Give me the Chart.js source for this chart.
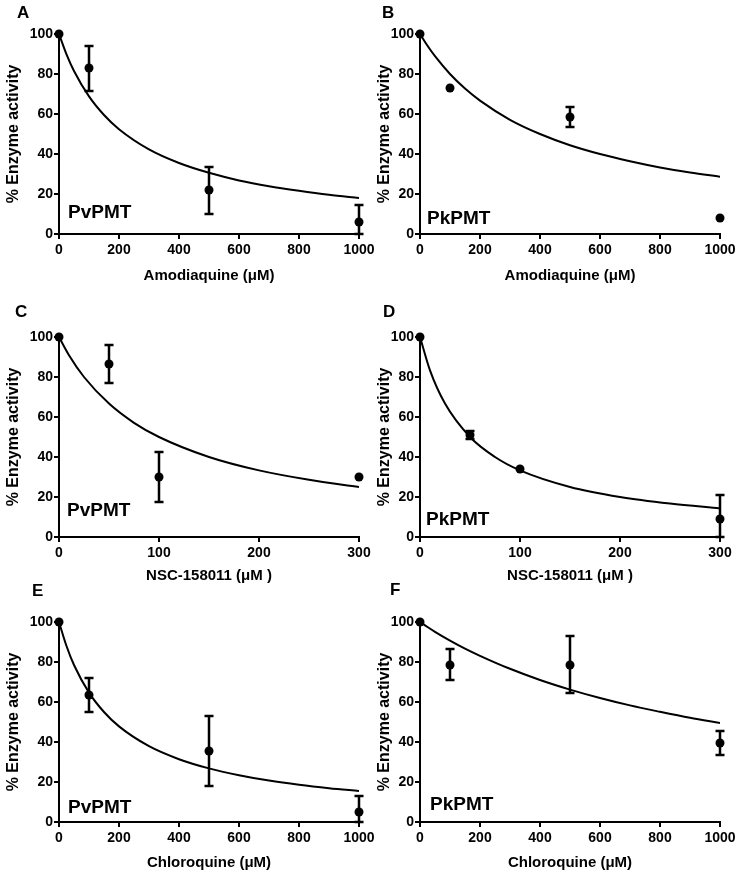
<!DOCTYPE html>
<html>
<head>
<meta charset="utf-8">
<script src="https://cdn.jsdelivr.net/npm/chart.js@4.4.0/dist/chart.umd.min.js"></script>
<style>
	body { margin: 0; background: #fff; }
	#wrap { position: relative; width: 740px; height: 876px; overflow: hidden; }
	#wrap canvas { position: absolute; }
</style>
</head>
<body>
<div id="wrap"></div>
<script>
// measured doses
const amoDose = [0, 100, 500, 1000];
const nscDose = [0, 50, 100, 300];
const chqDose = [0, 100, 500, 1000];

// fitted curve sample doses
const longFitDose = [0, 25, 50, 100, 150, 200, 300, 400, 500, 600, 700, 800, 900, 1000];
const nscFitDose = [0, 10, 25, 50, 75, 100, 150, 200, 250, 300];

// A: PvPMT, amodiaquine
const pvAmoMean = [100, 83, 22, 6];
const pvAmoLo = [100, 71.5, 10, 0];
const pvAmoHi = [100, 94, 33.5, 14.5];
const pvAmoFit = [100, 89.8, 81.5, 68.8, 59.5, 52.4, 42.3, 35.5, 30.6, 26.8, 23.9, 21.6, 19.6, 18];

// B: PkPMT, amodiaquine
const pkAmoMean = [100, 73, 58.5, 8];
const pkAmoLo = [100, 73, 53.5, 8];
const pkAmoHi = [100, 73, 63.5, 8];
const pkAmoFit = [100, 94.1, 88.9, 80, 72.7, 66.7, 57.1, 50, 44.4, 40, 36.4, 33.3, 30.8, 28.6];

// C: PvPMT, NSC-158011
const pvNscMean = [100, 86.5, 30, 30];
const pvNscLo = [100, 77, 17.5, 30];
const pvNscHi = [100, 96, 42.5, 30];
const pvNscFit = [100, 90.9, 80, 66.7, 57.1, 50, 40, 33.3, 28.6, 25];

// D: PkPMT, NSC-158011
const pkNscMean = [100, 51, 34, 9];
const pkNscLo = [100, 49, 34, 0];
const pkNscHi = [100, 53, 34, 21];
const pkNscFit = [100, 83.3, 66.7, 50, 40, 33.3, 25, 20, 16.7, 14.3];

// E: PvPMT, chloroquine
const pvChqMean = [100, 63.5, 35.5, 5];
const pvChqLo = [100, 55, 18, 0];
const pvChqHi = [100, 72, 53, 13];
const pvChqFit = [100, 88, 78.5, 64.7, 55, 47.8, 37.9, 31.4, 26.8, 23.4, 20.7, 18.6, 16.9, 15.5];

// F: PkPMT, chloroquine
const pkChqMean = [100, 78.5, 78.5, 39.5];
const pkChqLo = [100, 71, 64.5, 33.5];
const pkChqHi = [100, 86.5, 93, 45.5];
const pkChqFit = [100, 97.5, 95.1, 90.7, 86.7, 83.1, 76.6, 71, 66.2, 62, 58.3, 55.1, 52.1, 49.5];

const yTicks = [0, 20, 40, 60, 80, 100];

const FONT = "'Liberation Sans', Arial, Helvetica, sans-serif";

// page geometry
const colLeft = [0, 370];
const colWidth = [385, 370];
const yAxisW = [59, 50];
const padRight = [26, 20];
const yTitlePad = [4, 5];
const rowTop = [0, 290, 580];
const padTop = [34, 47, 42];
const xTitlePad = [4, 7, 5];
const PLOT_H = 200;
const X_AXIS_H = 55;

const panels = [
	{ letter: "A", name: "PvPMT", drug: "Amodiaquine (\u03bcM)", dose: amoDose, mean: pvAmoMean, lo: pvAmoLo, hi: pvAmoHi, fitX: longFitDose, fitY: pvAmoFit, xMax: 1000, xStep: 200, col: 0, row: 0, lx: 17, ly: 18, nx: 9, ny: 16 },
	{ letter: "B", name: "PkPMT", drug: "Amodiaquine (\u03bcM)", dose: amoDose, mean: pkAmoMean, lo: pkAmoLo, hi: pkAmoHi, fitX: longFitDose, fitY: pkAmoFit, xMax: 1000, xStep: 200, col: 1, row: 0, lx: 12, ly: 18, nx: 7, ny: 10 },
	{ letter: "C", name: "PvPMT", drug: "NSC-158011 (\u03bcM )", dose: nscDose, mean: pvNscMean, lo: pvNscLo, hi: pvNscHi, fitX: nscFitDose, fitY: pvNscFit, xMax: 300, xStep: 100, col: 0, row: 1, lx: 15, ly: 27, nx: 8, ny: 21 },
	{ letter: "D", name: "PkPMT", drug: "NSC-158011 (\u03bcM )", dose: nscDose, mean: pkNscMean, lo: pkNscLo, hi: pkNscHi, fitX: nscFitDose, fitY: pkNscFit, xMax: 300, xStep: 100, col: 1, row: 1, lx: 13, ly: 27, nx: 6, ny: 12 },
	{ letter: "E", name: "PvPMT", drug: "Chloroquine (\u03bcM)", dose: chqDose, mean: pvChqMean, lo: pvChqLo, hi: pvChqHi, fitX: longFitDose, fitY: pvChqFit, xMax: 1000, xStep: 200, col: 0, row: 2, lx: 32, ly: 16, nx: 9, ny: 9 },
	{ letter: "F", name: "PkPMT", drug: "Chloroquine (\u03bcM)", dose: chqDose, mean: pkChqMean, lo: pkChqLo, hi: pkChqHi, fitX: longFitDose, fitY: pkChqFit, xMax: 1000, xStep: 200, col: 1, row: 2, lx: 20, ly: 15, nx: 10, ny: 12 }
];

// vertical error bars with caps, from errLo/errHi on a dataset
const errorBars = {
	id: "errorBars",
	afterDatasetsDraw(chart) {
		let ctx = chart.ctx;
		let xs = chart.scales.x, ys = chart.scales.y;
		ctx.save();
		ctx.strokeStyle = "#000";
		ctx.lineWidth = 2.5;
		chart.data.datasets.forEach(ds => {
			if (!ds.errLo) return;
			ds.data.forEach((p, i) => {
				if (ds.errLo[i] === ds.errHi[i]) return;
				let x = xs.getPixelForValue(p.x);
				let y1 = ys.getPixelForValue(ds.errLo[i]);
				let y2 = ys.getPixelForValue(ds.errHi[i]);
				ctx.beginPath();
				ctx.moveTo(x, y1); ctx.lineTo(x, y2);
				ctx.moveTo(x - 4.5, y1); ctx.lineTo(x + 4.5, y1);
				ctx.moveTo(x - 4.5, y2); ctx.lineTo(x + 4.5, y2);
				ctx.stroke();
			});
		});
		ctx.restore();
	}
};

// panel letter and enzyme name
const panelText = {
	id: "panelText",
	afterDraw(chart, args, o) {
		let ctx = chart.ctx;
		let area = chart.chartArea;
		ctx.save();
		ctx.fillStyle = "#000";
		ctx.textAlign = "left";
		ctx.textBaseline = "alphabetic";
		ctx.font = "bold 17px " + FONT;
		ctx.fillText(o.letter, o.lx, o.ly);
		ctx.font = "bold 19px " + FONT;
		ctx.fillText(o.name, area.left + o.nx, area.bottom - o.ny);
		ctx.restore();
	}
};

const wrap = document.getElementById("wrap");

panels.forEach(p => {
	let canvas = document.createElement("canvas");
	let w = colWidth[p.col];
	let h = padTop[p.row] + PLOT_H + X_AXIS_H;
	canvas.width = w;
	canvas.height = h;
	canvas.style.left = colLeft[p.col] + "px";
	canvas.style.top = rowTop[p.row] + "px";
	canvas.style.width = w + "px";
	canvas.style.height = h + "px";
	wrap.appendChild(canvas);

	let tickFont = { family: FONT, size: 14, weight: "bold" };
	let axisGrid = { display: true, drawOnChartArea: false, drawTicks: true, tickLength: 5, color: "#000", tickColor: "#000", lineWidth: 2, tickWidth: 2 };
	let yw = yAxisW[p.col];

	new Chart(canvas.getContext("2d"), {
		type: "scatter",
		data: {
			datasets: [
				{
					data: p.fitX.map((x, i) => ({ x: x, y: p.fitY[i] })),
					showLine: true,
					borderColor: "#000",
					borderWidth: 2,
					pointRadius: 0,
					cubicInterpolationMode: "monotone",
					fill: false
				},
				{
					data: p.dose.map((x, i) => ({ x: x, y: p.mean[i] })),
					errLo: p.lo,
					errHi: p.hi,
					showLine: false,
					pointRadius: 4.5,
					pointBackgroundColor: "#000",
					pointBorderColor: "#000",
					pointBorderWidth: 0,
					clip: false
				}
			]
		},
		options: {
			responsive: false,
			animation: false,
			devicePixelRatio: 1,
			layout: { padding: { left: 0, top: padTop[p.row], right: padRight[p.col], bottom: 0 } },
			plugins: {
				legend: { display: false },
				tooltip: { enabled: false },
				panelText: { letter: p.letter, name: p.name, lx: p.lx, ly: p.ly, nx: p.nx, ny: p.ny }
			},
			scales: {
				x: {
					type: "linear",
					min: 0,
					max: p.xMax,
					border: { display: true, color: "#000", width: 2 },
					grid: axisGrid,
					ticks: { stepSize: p.xStep, color: "#000", font: tickFont, padding: 3, maxRotation: 0, callback: v => String(v) },
					title: { display: true, text: p.drug, color: "#000", font: { family: FONT, size: 15, weight: "bold" }, padding: { top: 0, bottom: xTitlePad[p.row] } },
					afterFit: s => { s.height = X_AXIS_H; s.paddingLeft = 0; s.paddingRight = 0; }
				},
				y: {
					type: "linear",
					min: 0,
					max: 100,
					border: { display: true, color: "#000", width: 2 },
					grid: axisGrid,
					afterBuildTicks: s => { s.ticks = yTicks.map(v => ({ value: v })); },
					ticks: { color: "#000", font: tickFont, padding: 1, callback: v => String(v) },
					title: { display: true, text: "% Enzyme activity", color: "#000", font: { family: FONT, size: 16, weight: "bold" }, padding: { top: yTitlePad[p.col], bottom: 0 } },
					afterFit: s => { s.width = yw; s.paddingTop = 0; s.paddingBottom = 0; }
				}
			}
		},
		plugins: [errorBars, panelText]
	});
});
</script>
</body>
</html>
